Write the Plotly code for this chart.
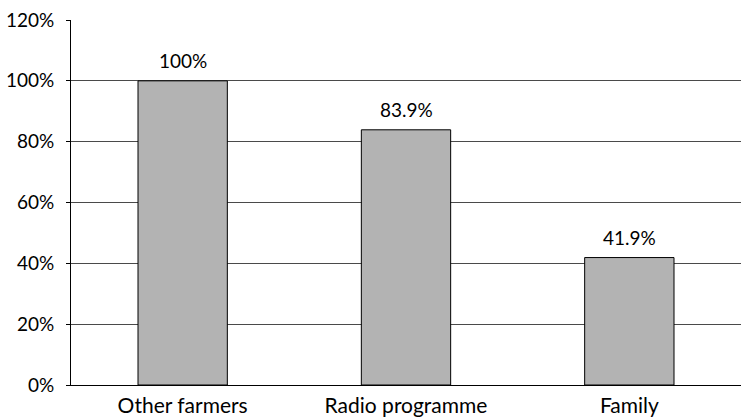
import plotly.graph_objects as go

categories = ["Other farmers", "Radio programme", "Family"]
values = [1.0, 0.839, 0.419]
value_labels = ["100%", "83.9%", "41.9%"]

FONT = "Lato, 'Open Sans', sans-serif"

fig = go.Figure(
    go.Bar(
        x=categories,
        y=values,
        marker=dict(color="#b3b3b3", line=dict(color="black", width=1)),
        width=0.4,
    )
)

# value labels sitting above each bar
for cat, val, lab in zip(categories, values, value_labels):
    fig.add_annotation(
        x=cat, y=val, text=lab, showarrow=False,
        yanchor="bottom", yshift=7,
        font=dict(family=FONT, size=19, color="black"),
    )

fig.update_layout(
    width=741,
    height=419,
    margin=dict(l=71, r=0, t=20, b=34),
    paper_bgcolor="white",
    plot_bgcolor="white",
    showlegend=False,
    font=dict(family=FONT, size=19, color="black"),
)

fig.update_yaxes(
    range=[0, 1.2],
    dtick=0.2,
    tickformat=".0%",
    showgrid=True,
    gridcolor="#4a4a4a",
    gridwidth=1,
    showline=True,
    linecolor="black",
    linewidth=1,
    ticks="outside",
    ticklen=4,
    tickcolor="black",
    ticklabelstandoff=8,
    zeroline=False,
    tickfont=dict(family=FONT, size=19),
)
fig.update_xaxes(
    showline=True,
    linecolor="black",
    linewidth=1,
    ticks="",
    ticklabelstandoff=2,
    tickfont=dict(family=FONT, size=21),
)

fig.write_html("out.html")
